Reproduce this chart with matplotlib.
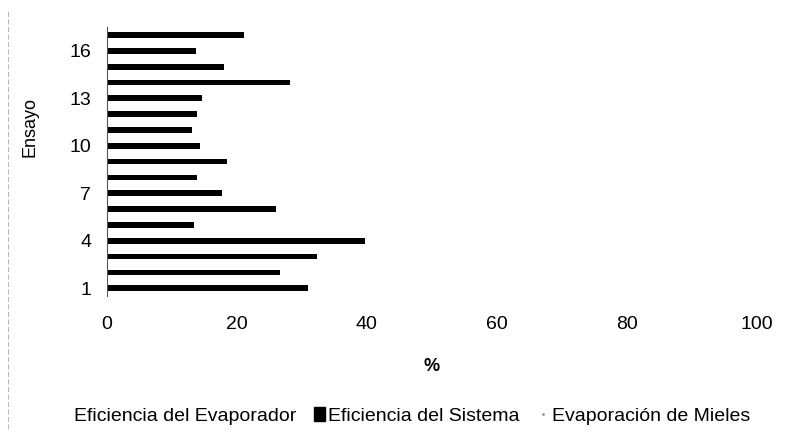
import numpy as np
import matplotlib
matplotlib.use("Agg")
import matplotlib.pyplot as plt
import matplotlib.patches as mpatches
from matplotlib.lines import Line2D

plt.rcParams["font.family"] = ["Liberation Sans", "DejaVu Sans"]

ensayos = list(range(1, 18))
# black series
sistema = [30.9, 26.7, 32.3, 39.8, 13.4, 26.0, 17.8, 13.9, 18.5,
           14.3, 13.1, 13.9, 14.7, 28.2, 18.0, 13.7, 21.1]
# the other two series were printed in light shades and do not survive the scan
evaporador = [81, 80, 80, 80, 80, 80, 80, 80, 80,
              80, 80, 80, 80, 80, 80, 80, 80]
mieles = [0] * 17
ytick_vals = [1, 4, 7, 10, 13, 16]

fig = plt.figure(figsize=(7.9, 4.38), dpi=100)
ax = fig.add_axes([0.135, 0.324, 0.823, 0.614])

y = np.array(ensayos, dtype=float)
h = 0.36
ax.barh(y - h, evaporador, height=h, color="#ffffff", linewidth=0)
ax.barh(y, sistema, height=h, color="#000000", linewidth=0)
ax.barh(y + h, mieles, height=h, color="#ffffff", linewidth=0)

ax.set_xlim(0, 100)
ax.set_ylim(0.5, 17.5)
ax.set_xticks([0, 20, 40, 60, 80, 100])
ax.set_yticks(ytick_vals)
ax.tick_params(axis="x", length=0, pad=14, labelsize=14)
ax.tick_params(axis="y", length=0, pad=11, labelsize=14)
for s in ["top", "right", "bottom"]:
    ax.spines[s].set_visible(False)
ax.spines["left"].set_linewidth(0.8)
ax.spines["left"].set_color("#555555")

ax.set_xlabel("%", fontsize=13, fontweight="bold", labelpad=18)
ax.set_ylabel("Ensayo", fontsize=13)
ax.yaxis.set_label_coords(-0.105, 0.63)

# scanned page edge on the left
fig.add_artist(Line2D([0.01, 0.01], [0.02, 0.98], color="#aaaaaa",
                      linewidth=0.6, linestyle=(0, (6, 3))))

handles = [
    mpatches.Patch(color="#ffffff", label="Eficiencia del Evaporador"),
    mpatches.Patch(color="#000000", label="Eficiencia del Sistema"),
    Line2D([], [], marker=".", markersize=2, color="#999999", linestyle="none",
           label="Evaporación de Mieles"),
]
fig.legend(handles=handles, loc="center", bbox_to_anchor=(0.512, 0.05), ncol=3,
           frameon=False, fontsize=14, handlelength=0.6, handletextpad=0.15,
           columnspacing=0.9)

fig.savefig("out.png", dpi=100)
